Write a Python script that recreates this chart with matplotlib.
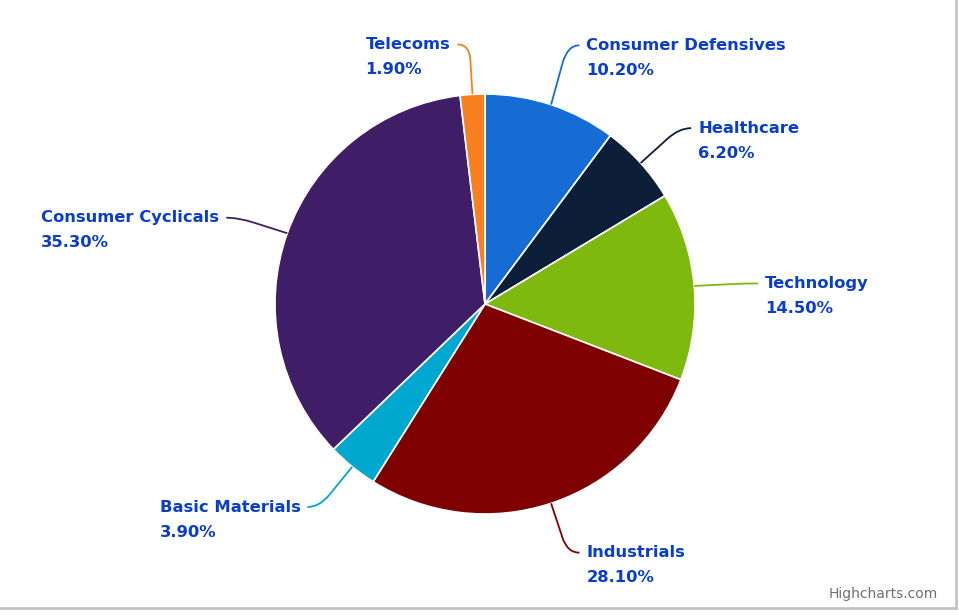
import numpy as np
import matplotlib
matplotlib.use('Agg')
import matplotlib.pyplot as plt
from matplotlib.path import Path
from matplotlib.patches import PathPatch

# data
sectors = ['Consumer Defensives', 'Healthcare', 'Technology', 'Industrials',
           'Basic Materials', 'Consumer Cyclicals', 'Telecoms']
shares = [10.2, 6.2, 14.5, 28.1, 3.9, 35.3, 1.9]
colours = ['#176cd4', '#0c1e38', '#7fb80e', '#7f0000',
           '#00a8cf', '#3f1d67', '#f7811e']
# small vertical nudges of the labels (pixels, up positive)
nudge = [10, 0, -2, 0, 0, -2, -2]

W, H = 959, 615
cx, cy = 485, H - 304     # pie centre in pixels (y up)
R = 210
label_color = '#0a3ec8'
fs = 11.8

fig = plt.figure(figsize=(W / 100, H / 100), dpi=100)
ax = fig.add_axes([0, 0, 1, 1])

wedges, _ = ax.pie(shares, colors=colours, center=(cx, cy), radius=R,
                   startangle=90, counterclock=False,
                   wedgeprops=dict(edgecolor='white', linewidth=1.2))

# pie() resets the limits, so set them afterwards
ax.set_xlim(0, W)
ax.set_ylim(0, H)
ax.set_aspect('equal')
ax.axis('off')

renderer = fig.canvas.get_renderer()

for w, name, val, col, dy in zip(wedges, sectors, shares, colours, nudge):
    ang = np.deg2rad((w.theta1 + w.theta2) / 2)
    c, s = np.cos(ang), np.sin(ang)
    ax0, ay0 = cx + R * c, cy + R * s
    ex, ey = cx + (R + 52) * c, cy + (R + 52) * s + dy
    side = 1 if c >= 0 else -1
    lx, ly = ex + side * 12, ey
    bx, by = ax0 + 0.7 * (ex - ax0), ay0 + 0.7 * (ey - ay0)
    path = Path([(ax0, ay0), (bx, by), (ex, ey), (lx, ly)],
                [Path.MOVETO, Path.LINETO, Path.CURVE3, Path.CURVE3])
    ax.add_patch(PathPatch(path, fill=False, edgecolor=col, lw=1.3))
    tx = lx + side * 7
    ha = 'left' if side > 0 else 'right'
    t = ax.text(tx, ly, name, ha=ha, va='center', fontsize=fs,
                fontweight='bold', color=label_color)
    # the percentage line is left-aligned under the name
    bb = t.get_window_extent(renderer)
    px = ax.transData.inverted().transform((bb.x0, bb.y0))[0]
    ax.text(px, ly - 25, f'{val:.2f}%', ha='left', va='center', fontsize=fs,
            fontweight='bold', color=label_color)

ax.text(938, H - 594, 'Highcharts.com', ha='right', va='center',
        fontsize=10, color='#707070')

# chart border (right and bottom)
ax.plot([956, 956], [H, H - 608], color='#c4c4c4', lw=2)
ax.plot([0, 956], [H - 608, H - 608], color='#c4c4c4', lw=2)

fig.savefig('out.png', dpi=100)
